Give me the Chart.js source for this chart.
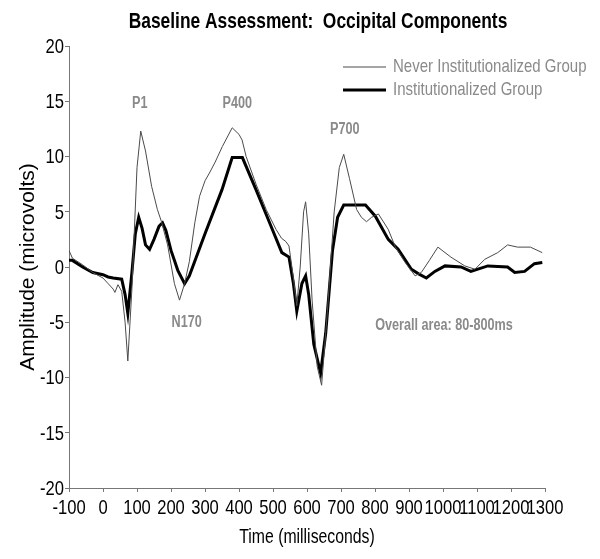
<!DOCTYPE html>
<html>
<head>
<meta charset="utf-8">
<script src="https://cdn.jsdelivr.net/npm/chart.js@4"></script>
<style>
  body { margin: 0; background: #fff; }
</style>
</head>
<body>
<canvas id="myChart"></canvas>
<script>
const FONT = "'Liberation Sans', Arial, sans-serif";
const SQUEEZE = 0.79; // the original type is a narrow face

const timeNever = [-100, -90, -60, -30, 0, 15, 30, 35, 44, 55, 65, 73, 85, 100, 111, 125, 143, 160, 172, 190,
    210, 225, 240, 254, 270, 284, 300, 313, 330, 351, 380, 400, 409, 421, 450, 480, 509, 525, 538, 547,
    560, 570, 580, 590, 596, 605, 615, 630, 643, 660, 680, 695, 708, 725, 746, 760, 775, 790, 810, 839,
    860, 889, 918, 936, 960, 985, 1023, 1064, 1094, 1123, 1161, 1190, 1219, 1257, 1292];
const ampNever = [1.5, 0.8, 0.2, -0.5, -1.0, -1.5, -2.0, -2.3, -1.6, -2.2, -5, -8.5, -2, 9, 12.3, 10.5, 7.3, 5.2, 4.1, 2,
    -1.5, -3.0, -1.5, 0.5, 4, 6.4, 7.8, 8.5, 9.5, 10.9, 12.6, 12.0, 11.5, 10.0, 7.5, 5.2, 3.4, 2.6, 2.3, 1.9,
    -1, -3.5, 0, 5, 5.9, 3, -3, -9, -10.7, -4, 5, 9, 10.2, 8, 5.2, 4.5, 4.1, 4.5, 4.8, 3.4,
    1.8, 0.4, -0.8, -0.5, 0.6, 1.8, 0.9, 0.1, -0.2, 0.7, 1.3, 2.0, 1.8, 1.8, 1.3];

const timeInst = [-100, -90, -60, -30, 0, 15, 30, 55, 65, 73, 85, 95, 105, 115, 125, 137, 150, 165, 175, 185,
    200, 220, 240, 254, 300, 350, 380, 410, 450, 490, 526, 547, 560, 570, 585, 596, 605, 620, 640, 655,
    675, 690, 708, 772, 801, 839, 868, 907, 927, 951, 976, 1006, 1053, 1082, 1132, 1190, 1211, 1240, 1269, 1292];
const ampInst = [0.6, 0.6, 0, -0.5, -0.7, -0.9, -1.0, -1.1, -2.5, -4.2, -0.5, 3, 4.5, 3.5, 2, 1.6, 2.5, 3.7, 4.0, 3.3,
    1.5, -0.3, -1.5, -0.8, 3, 7, 9.9, 9.9, 7, 4, 1.3, 0.9, -1.5, -4.0, -1.5, -0.8, -2.5, -7, -9.6, -6,
    1.5, 4.5, 5.6, 5.6, 4.6, 2.5, 1.6, -0.2, -0.6, -1.0, -0.4, 0.1, 0, -0.4, 0.1, 0, -0.5, -0.4, 0.3, 0.4];

// component labels: [text, time, amplitude]
const peakLabels = [
    ['P1', 108, 14.8],
    ['P400', 395, 14.8],
    ['P700', 711, 12.4],
    ['N170', 246, -5.0],
    ['Overall area: 80-800ms', 1003, -5.3]
];

function toPoints(xs, ys) {
    return xs.map((x, i) => ({ x: x, y: ys[i] }));
}

// narrow text: squeeze horizontally around the anchor
function narrowText(ctx, text, x, y, font, color, align, baseline) {
    ctx.save();
    ctx.translate(x, y);
    ctx.scale(SQUEEZE, 1);
    ctx.font = font;
    ctx.fillStyle = color;
    ctx.textAlign = align;
    ctx.textBaseline = baseline || 'middle';
    ctx.fillText(text, 0, 0);
    ctx.restore();
}

const extras = {
    id: 'extras',
    afterDraw(chart) {
        const ctx = chart.ctx;
        const xs = chart.scales.x, ys = chart.scales.y;

        narrowText(ctx, 'Baseline Assessment:  Occipital Components', 318, 22, "bold 22px " + FONT, '#000', 'center');

        // tick labels
        xs.ticks.forEach(t => {
            narrowText(ctx, String(t.value), xs.getPixelForValue(t.value), 514, "21px " + FONT, '#000', 'center', 'alphabetic');
        });
        ys.ticks.forEach(t => {
            narrowText(ctx, String(t.value), 64, ys.getPixelForValue(t.value) + 1, "21px " + FONT, '#000', 'right');
        });
        narrowText(ctx, 'Time (milliseconds)', (xs.left + xs.right) / 2, 537, "20px " + FONT, '#000', 'center');

        // legend
        chart.data.datasets.forEach((ds, i) => {
            const y = 67 + i * 23;
            ctx.save();
            ctx.strokeStyle = ds.borderColor;
            ctx.lineWidth = ds.borderWidth;
            ctx.beginPath();
            ctx.moveTo(343, y);
            ctx.lineTo(386, y);
            ctx.stroke();
            ctx.restore();
            narrowText(ctx, ds.label, 393, y, "19px " + FONT, '#8a8a8a', 'left');
        });

        // component labels
        peakLabels.forEach(p => {
            narrowText(ctx, p[0], xs.getPixelForValue(p[1]), ys.getPixelForValue(p[2]), "bold 16px " + FONT, '#8a8a8a', 'center');
        });
    }
};

const config = {
    type: 'line',
    data: {
        datasets: [
            {
                label: 'Never Institutionalized Group',
                data: toPoints(timeNever, ampNever),
                borderColor: '#4a4a4a',
                borderWidth: 1,
                pointRadius: 0,
                tension: 0
            },
            {
                label: 'Institutionalized Group',
                data: toPoints(timeInst, ampInst),
                borderColor: '#000000',
                borderWidth: 3,
                pointRadius: 0,
                tension: 0
            }
        ]
    },
    options: {
        responsive: false,
        animation: false,
        layout: { padding: { top: 46, right: 55, left: 0, bottom: 0 } },
        plugins: { legend: { display: false }, tooltip: { enabled: false } },
        scales: {
            x: {
                type: 'linear',
                min: -100,
                max: 1300,
                border: { color: '#777', width: 1 },
                grid: { drawOnChartArea: false, color: '#777', tickLength: 4 },
                ticks: { stepSize: 100, autoSkip: false, display: false },
                afterFit(scale) { scale.height = 71; }
            },
            y: {
                min: -20,
                max: 20,
                border: { color: '#777', width: 1 },
                grid: { drawOnChartArea: false, color: '#777', tickLength: 4 },
                ticks: { stepSize: 5, display: false },
                title: {
                    display: true, text: 'Amplitude (microvolts)', color: '#000',
                    font: { family: FONT, size: 21 }, padding: { top: 16, bottom: 0 }
                },
                afterFit(scale) { scale.width = 69; }
            }
        }
    },
    plugins: [extras]
};

const canvas = document.getElementById('myChart');
canvas.width = 600;
canvas.height = 559;
const myChart = new Chart(canvas, config);
</script>
</body>
</html>
